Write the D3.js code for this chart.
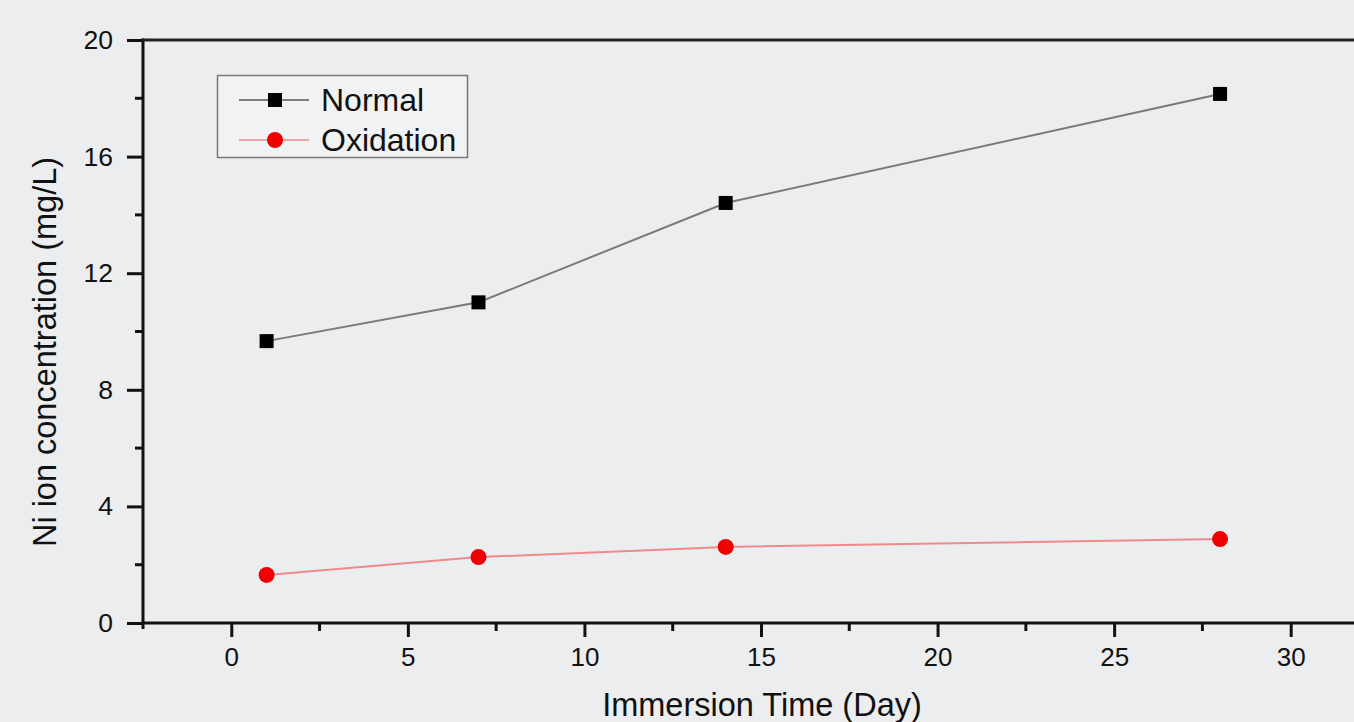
<!DOCTYPE html>
<html><head><meta charset="utf-8">
<script src="https://cdn.jsdelivr.net/npm/d3@7"></script>
<style>
html,body{margin:0;padding:0;background:#ecedef;}
svg{display:block;font-family:"Liberation Sans",Arial,sans-serif;}
</style></head>
<body>
<svg id="chart" width="1354" height="722"></svg>
<script>
const days = [1, 7, 14, 28];
const normalValues = [9.67, 11.0, 14.41, 18.15];
const oxidationValues = [1.65, 2.26, 2.61, 2.88];
const seriesNames = ["Normal", "Oxidation"];
const xTicks = [0, 5, 10, 15, 20, 25, 30];
const yTicks = [0, 4, 8, 12, 16, 20];
const xLabel = "Immersion Time (Day)";
const yLabel = "Ni ion concentration (mg/L)";

(function(){
const svg = d3.select("#chart");
const mLeft = 143, mTop = 40, mBottom = 623;
const x = d3.scaleLinear().domain([-2.5, 30]).range([mLeft, 1290.7]);
const y = d3.scaleLinear().domain([0, 20]).range([mBottom, mTop]);
const rightEdge = 1400;

svg.append("rect").attr("width",1354).attr("height",722).attr("fill","#ecedef");

// x axis
const xAxis = d3.axisBottom(x).tickValues(xTicks).tickSize(14).tickSizeOuter(0).tickPadding(6).tickFormat(d3.format("d"));
const gx = svg.append("g").attr("transform",`translate(0,${mBottom})`).call(xAxis);
gx.select(".domain").remove();
gx.selectAll(".tick line").attr("stroke","#111").attr("stroke-width",3);
gx.selectAll(".tick text").attr("font-size",26).attr("fill","#111").attr("dy","0.9em");
const xMinor = d3.range(-2.5, 33, 2.5).filter(v => !xTicks.includes(v) && v > -2.5);
svg.append("g").selectAll("line").data(xMinor).join("line")
  .attr("x1",d=>x(d)).attr("x2",d=>x(d)).attr("y1",mBottom).attr("y2",mBottom+8)
  .attr("stroke","#111").attr("stroke-width",3);

// y axis
const yAxis = d3.axisLeft(y).tickValues(yTicks).tickSize(16).tickSizeOuter(0).tickPadding(14);
const gy = svg.append("g").attr("transform",`translate(${mLeft},0)`).call(yAxis);
gy.select(".domain").remove();
gy.selectAll(".tick line").attr("stroke","#111").attr("stroke-width",3);
gy.selectAll(".tick text").attr("font-size",26.5).attr("fill","#111");
const yMinor = d3.range(2, 20, 4);
svg.append("g").selectAll("line").data(yMinor).join("line")
  .attr("x1",mLeft-8).attr("x2",mLeft).attr("y1",d=>y(d)).attr("y2",d=>y(d))
  .attr("stroke","#111").attr("stroke-width",3);

// frame lines
svg.append("line").attr("x1",mLeft).attr("x2",mLeft).attr("y1",mTop-1.5).attr("y2",mBottom+6).attr("stroke","#111").attr("stroke-width",3);
svg.append("line").attr("x1",mLeft-1.5).attr("x2",rightEdge).attr("y1",mBottom).attr("y2",mBottom).attr("stroke","#111").attr("stroke-width",3);
svg.append("line").attr("x1",mLeft-1.5).attr("x2",rightEdge).attr("y1",mTop).attr("y2",mTop).attr("stroke","#222").attr("stroke-width",3);

// lines
const line = d3.line().x(d=>x(d[0])).y(d=>y(d[1]));
const normalData = days.map((d,i)=>[d, normalValues[i]]);
const oxData = days.map((d,i)=>[d, oxidationValues[i]]);
svg.append("path").datum(normalData).attr("d",line).attr("fill","none").attr("stroke","#7a7a7a").attr("stroke-width",2);
svg.append("path").datum(oxData).attr("d",line).attr("fill","none").attr("stroke","#f08a8a").attr("stroke-width",2);
svg.append("g").selectAll("rect").data(normalData).join("rect")
  .attr("x",d=>x(d[0])-7).attr("y",d=>y(d[1])-7).attr("width",14).attr("height",14).attr("fill","#000");
svg.append("g").selectAll("circle").data(oxData).join("circle")
  .attr("cx",d=>x(d[0])).attr("cy",d=>y(d[1])).attr("r",8).attr("fill","#ee0000");

// legend
const lg = svg.append("g");
lg.append("rect").attr("x",217.5).attr("y",75.5).attr("width",250).attr("height",82).attr("fill","#f1f2f3").attr("stroke","#777").attr("stroke-width",1.5);
const ly = [100, 140];
lg.append("line").attr("x1",239).attr("x2",309).attr("y1",ly[0]).attr("y2",ly[0]).attr("stroke","#555").attr("stroke-width",1.5);
lg.append("rect").attr("x",268).attr("y",ly[0]-7).attr("width",14).attr("height",14).attr("fill","#000");
lg.append("line").attr("x1",239).attr("x2",309).attr("y1",ly[1]).attr("y2",ly[1]).attr("stroke","#f08a8a").attr("stroke-width",1.5);
lg.append("circle").attr("cx",275).attr("cy",ly[1]).attr("r",8).attr("fill","#ee0000");
lg.selectAll("text").data(seriesNames).join("text")
  .attr("x",321).attr("y",(d,i)=>ly[i]+11).attr("font-size",32).attr("fill","#111").text(d=>d);

// axis titles
svg.append("text").attr("x",762).attr("y",716).attr("text-anchor","middle").attr("font-size",32.5).attr("fill","#111").text(xLabel);
svg.append("text").attr("transform","translate(56,352) rotate(-90)").attr("text-anchor","middle").attr("font-size",32.5).attr("fill","#111").text(yLabel);
})();
</script>
</body></html>
